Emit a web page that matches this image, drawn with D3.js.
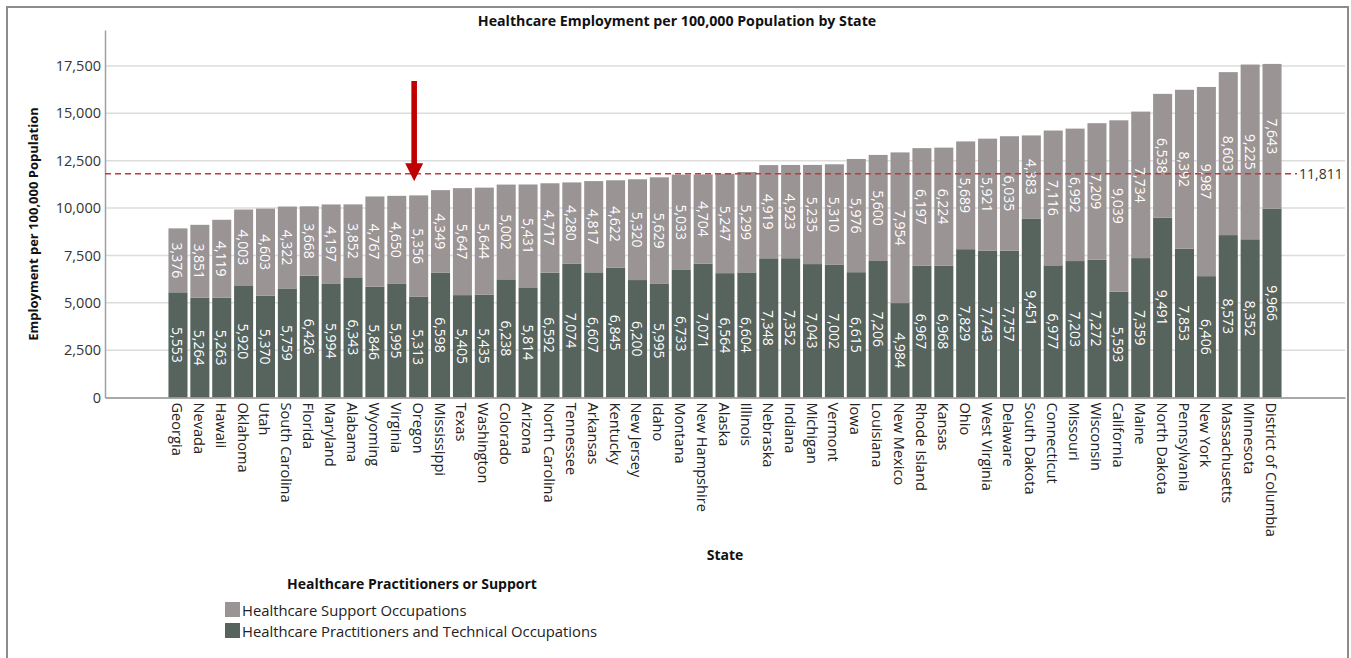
<!DOCTYPE html>
<html>
<head>
<meta charset="utf-8">
<script src="https://cdn.jsdelivr.net/npm/d3@7"></script>
<style>
  html, body { margin: 0; padding: 0; background: #fff; }
  svg { display: block; font-family: "Open Sans", "DejaVu Sans", sans-serif; }
</style>
</head>
<body>
<svg id="chart" width="1351" height="658"></svg>
<script>
// States ordered by total healthcare employment per 100,000 population
const states = [
  "Georgia", "Nevada", "Hawaii", "Oklahoma", "Utah", "South Carolina", "Florida",
  "Maryland", "Alabama", "Wyoming", "Virginia", "Oregon", "Mississippi", "Texas",
  "Washington", "Colorado", "Arizona", "North Carolina", "Tennessee", "Arkansas",
  "Kentucky", "New Jersey", "Idaho", "Montana", "New Hampshire", "Alaska", "Illinois",
  "Nebraska", "Indiana", "Michigan", "Vermont", "Iowa", "Louisiana", "New Mexico",
  "Rhode Island", "Kansas", "Ohio", "West Virginia", "Delaware", "South Dakota",
  "Connecticut", "Missouri", "Wisconsin", "California", "Maine", "North Dakota",
  "Pennsylvania", "New York", "Massachusetts", "Minnesota", "District of Columbia"
];

// Healthcare Practitioners and Technical Occupations (bottom segment)
const practitioners = [
  5553, 5264, 5263, 5920, 5370, 5759, 6426, 5994, 6343, 5846, 5995, 5313, 6598, 5405,
  5435, 6238, 5814, 6592, 7074, 6607, 6845, 6200, 5995, 6733, 7071, 6564, 6604,
  7348, 7352, 7043, 7002, 6615, 7206, 4984, 6967, 6968, 7829, 7743, 7757, 9451,
  6977, 7203, 7272, 5593, 7359, 9491, 7853, 6406, 8573, 8352, 9966
];

// Healthcare Support Occupations (top segment)
const support = [
  3376, 3851, 4119, 4003, 4603, 4322, 3668, 4197, 3852, 4767, 4650, 5356, 4349, 5647,
  5644, 5002, 5431, 4717, 4280, 4817, 4622, 5320, 5629, 5033, 4704, 5247, 5299,
  4919, 4923, 5235, 5310, 5976, 5600, 7954, 6197, 6224, 5689, 5921, 6035, 4383,
  7116, 6992, 7209, 9039, 7734, 6538, 8392, 9987, 8603, 9225, 7643
];

const seriesNames = ["Healthcare Support Occupations", "Healthcare Practitioners and Technical Occupations"];
const yTickValues = [0, 2500, 5000, 7500, 10000, 12500, 15000, 17500];
const nationalAverage = 11811;
const highlightedState = "Oregon";

const colors = { support: "#9b9495", practitioners: "#57635d", ref: "#c0393d", arrow: "#c00000" };

const svg = d3.select("#chart");
const fmt = d3.format(",");

// Outer frame
svg.append("rect")
  .attr("x", 7).attr("y", 7).attr("width", 1341).attr("height", 670)
  .attr("fill", "none").attr("stroke", "#8c8c8c").attr("stroke-width", 2);

const plot = { left: 105, right: 1345, top: 30, bottom: 397.5 };

const x = d3.scaleBand()
  .domain(states)
  .range([plot.left, plot.right])
  .paddingInner(0.13)
  .paddingOuter(2.9);

const y = d3.scaleLinear()
  .domain([0, 19400])
  .range([plot.bottom, plot.top]);

// Title
svg.append("text")
  .attr("x", 677).attr("y", 20)
  .attr("text-anchor", "middle").attr("dominant-baseline", "central")
  .attr("font-size", 14.2).attr("font-weight", "bold").attr("fill", "#111")
  .text("Healthcare Employment per 100,000 Population by State");

// Gridlines
svg.append("g")
  .selectAll("line")
  .data(yTickValues.filter(d => d > 0))
  .join("line")
  .attr("x1", plot.left).attr("x2", plot.right)
  .attr("y1", d => y(d)).attr("y2", d => y(d))
  .attr("stroke", "#dcdcdc").attr("stroke-width", 1.5);

// Y axis
const yAxis = svg.append("g")
  .attr("transform", `translate(${plot.left},0)`)
  .call(d3.axisLeft(y).tickValues(yTickValues).tickFormat(fmt).tickSize(0).tickPadding(4));
yAxis.select(".domain").attr("stroke", "#a0a0a0").attr("stroke-width", 1.5);
yAxis.selectAll("text").attr("font-size", 14.5).attr("fill", "#333")
  .attr("font-family", "'Open Sans', sans-serif");

// Y axis title
svg.append("text")
  .attr("transform", "translate(33,224) rotate(-90)")
  .attr("text-anchor", "middle").attr("dominant-baseline", "central")
  .attr("font-size", 13).attr("font-weight", "bold").attr("fill", "#111")
  .text("Employment per 100,000 Population");

// Stacked bars
const rows = states.map((s, i) => ({ state: s, practitioners: practitioners[i], support: support[i] }));
const stack = d3.stack().keys(["practitioners", "support"])(rows);

const layers = svg.append("g").selectAll("g")
  .data(stack)
  .join("g")
  .attr("fill", d => colors[d.key]);

layers.selectAll("rect")
  .data(d => d)
  .join("rect")
  .attr("x", d => x(d.data.state))
  .attr("width", x.bandwidth())
  .attr("y", d => y(d[1]))
  .attr("height", d => y(d[0]) - y(d[1]));

// Segment value labels
layers.selectAll("text")
  .data(d => d.map(v => ({ v, key: d.key })))
  .join("text")
  .attr("transform", d => {
    const cx = x(d.v.data.state) + x.bandwidth() / 2;
    const cy = (y(d.v[0]) + y(d.v[1])) / 2;
    return `translate(${cx},${cy}) rotate(90)`;
  })
  .attr("text-anchor", "middle").attr("dominant-baseline", "central")
  .attr("font-size", 14).attr("fill", "#fff")
  .text(d => fmt(d.v.data[d.key]));

// X axis
const xAxis = svg.append("g")
  .attr("transform", `translate(0,${plot.bottom})`)
  .call(d3.axisBottom(x).tickSize(0).tickPadding(0));
xAxis.select(".domain").attr("stroke", "#8c8c8c").attr("stroke-width", 1.5);
xAxis.selectAll("text")
  .attr("transform", "translate(0,5) rotate(90)")
  .attr("x", 0).attr("y", 0).attr("dy", null)
  .attr("text-anchor", "start").attr("dominant-baseline", "central")
  .attr("font-size", 14.6).attr("fill", "#222")
  .attr("font-family", "'Open Sans', sans-serif");

// X axis title
svg.append("text")
  .attr("x", (plot.left + plot.right) / 2).attr("y", 554)
  .attr("text-anchor", "middle").attr("dominant-baseline", "central")
  .attr("font-size", 14).attr("font-weight", "bold").attr("fill", "#111")
  .text("State");

// National average reference line
svg.append("line")
  .attr("x1", plot.left).attr("x2", 1297)
  .attr("y1", y(nationalAverage)).attr("y2", y(nationalAverage))
  .attr("stroke", colors.ref).attr("stroke-width", 1.4).attr("stroke-dasharray", "6,4");
svg.append("text")
  .attr("x", 1299).attr("y", y(nationalAverage))
  .attr("dominant-baseline", "central")
  .attr("font-size", 14).attr("fill", "#333")
  .text(fmt(nationalAverage));

// Arrow pointing at the highlighted state
const ax = x(highlightedState) + x.bandwidth() / 2 - 4.5;
const tipY = y(nationalAverage) + 7.5;
const arrow = d3.path();
arrow.moveTo(ax - 2.8, 81);
arrow.lineTo(ax + 2.8, 81);
arrow.lineTo(ax + 2.8, tipY - 18);
arrow.lineTo(ax + 9, tipY - 18);
arrow.lineTo(ax, tipY);
arrow.lineTo(ax - 9, tipY - 18);
arrow.lineTo(ax - 2.8, tipY - 18);
arrow.closePath();
svg.append("path").attr("d", arrow.toString()).attr("fill", colors.arrow);

// Legend
const legend = svg.append("g");
legend.append("text")
  .attr("x", 287).attr("y", 583)
  .attr("dominant-baseline", "central")
  .attr("font-size", 14).attr("font-weight", "bold").attr("fill", "#111")
  .text("Healthcare Practitioners or Support");

const legendItems = [
  { name: seriesNames[0], color: colors.support },
  { name: seriesNames[1], color: colors.practitioners }
];
const li = legend.selectAll("g.item")
  .data(legendItems)
  .join("g")
  .attr("class", "item")
  .attr("transform", (d, i) => `translate(225,${602 + i * 21})`);
li.append("rect").attr("width", 15).attr("height", 15).attr("fill", d => d.color);
li.append("text")
  .attr("x", 17).attr("y", 7.5)
  .attr("dominant-baseline", "central")
  .attr("font-size", 14.8).attr("fill", "#222")
  .text(d => d.name);
</script>
</body>
</html>
